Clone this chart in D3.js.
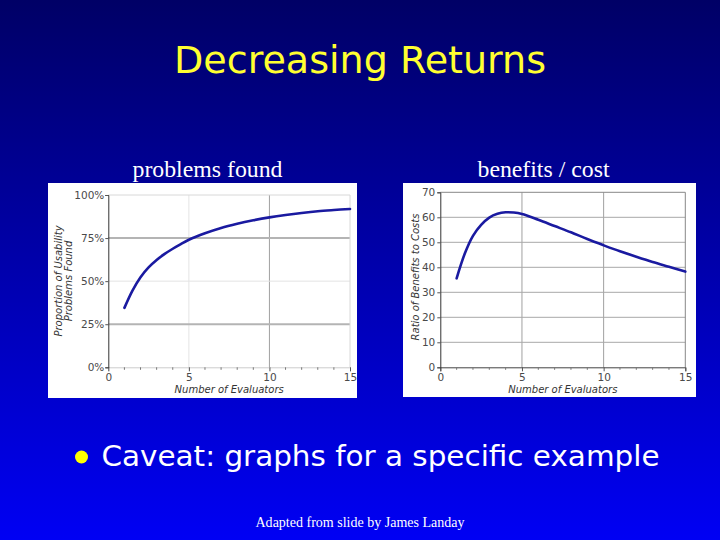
<!DOCTYPE html>
<html>
<head>
<meta charset="utf-8">
<script src="https://cdn.jsdelivr.net/npm/d3@7"></script>
<style>
  html, body { margin: 0; padding: 0; background: #000080; }
  svg { display: block; }
</style>
</head>
<body>
<svg id="slide" width="720" height="540"></svg>
<script>
// ---------- data ----------
const evaluators = [1, 1.5, 2, 2.5, 3, 3.5, 4, 4.5, 5, 6, 7, 8, 9, 10, 11, 12, 13, 14, 15];
const problemsFound = [34.5, 44.5, 52.3, 58.0, 62.3, 65.8, 68.8, 71.5, 74.0, 77.8, 80.9, 83.3, 85.3, 87.0, 88.4, 89.6, 90.6, 91.3, 91.9];
const benefitCost = [35.6, 45.5, 52.6, 57.0, 59.9, 61.4, 62.0, 61.9, 61.3, 59.0, 56.5, 54.0, 51.3, 48.8, 46.4, 44.2, 42.1, 40.2, 38.3];
const xTicks = [0, 5, 10, 15];
const xMinorTicks = [1, 2, 3, 4, 6, 7, 8, 9, 11, 12, 13, 14];
const yTicksPct = [0, 25, 50, 75, 100];
const yTicksRatio = [0, 10, 20, 30, 40, 50, 60, 70];

const slideTitle = "Decreasing Returns";
const leftCaption = "problems found";
const rightCaption = "benefits / cost";
const bulletText = "Caveat: graphs for a specific example";
const footerText = "Adapted from slide by James Landay";
const xAxisTitle = "Number of Evaluators";
const leftYTitle = ["Proportion of Usability", "Problems Found"];
const rightYTitle = "Ratio of Benefits to Costs";

// ---------- slide ----------
const svg = d3.select("#slide");
const defs = svg.append("defs");
const grad = defs.append("linearGradient").attr("id", "bg").attr("x1", 0).attr("y1", 0).attr("x2", 0).attr("y2", 1);
grad.append("stop").attr("offset", 0).attr("stop-color", "#000066");
grad.append("stop").attr("offset", 1).attr("stop-color", "#0000f4");
svg.append("rect").attr("width", 720).attr("height", 540).attr("fill", "url(#bg)");

svg.append("text").text(slideTitle)
  .attr("x", 360).attr("y", 73).attr("text-anchor", "middle")
  .attr("font-family", "'DejaVu Sans', Verdana, sans-serif").attr("font-size", 37)
  .attr("textLength", 372).attr("lengthAdjust", "spacingAndGlyphs")
  .attr("fill", "#ffff30");

svg.append("text").text(leftCaption)
  .attr("x", 207.5).attr("y", 177).attr("text-anchor", "middle")
  .attr("font-family", "'Liberation Serif', 'Times New Roman', serif").attr("font-size", 24)
  .attr("textLength", 150).attr("lengthAdjust", "spacingAndGlyphs")
  .attr("fill", "#ffffff");
svg.append("text").text(rightCaption)
  .attr("x", 543.5).attr("y", 177).attr("text-anchor", "middle")
  .attr("font-family", "'Liberation Serif', 'Times New Roman', serif").attr("font-size", 24)
  .attr("textLength", 132).attr("lengthAdjust", "spacingAndGlyphs")
  .attr("fill", "#ffffff");

svg.append("circle").attr("cx", 81.5).attr("cy", 457).attr("r", 6.5).attr("fill", "#ffff00");
svg.append("text").text(bulletText)
  .attr("x", 101.5).attr("y", 466)
  .attr("font-family", "'DejaVu Sans', sans-serif").attr("font-size", 29)
  .attr("textLength", 558).attr("lengthAdjust", "spacingAndGlyphs")
  .attr("fill", "#ffffff");

svg.append("text").text(footerText)
  .attr("x", 360).attr("y", 527).attr("text-anchor", "middle")
  .attr("font-family", "'Liberation Serif', 'Times New Roman', serif").attr("font-size", 14)
  .attr("textLength", 209).attr("lengthAdjust", "spacingAndGlyphs")
  .attr("fill", "#ffffff");

// ---------- chart builder ----------
function drawChart(cfg) {
  const g = svg.append("g");
  g.append("rect").attr("x", cfg.box[0]).attr("y", cfg.box[1])
    .attr("width", cfg.box[2]).attr("height", cfg.box[3]).attr("fill", "#ffffff");

  const x = d3.scaleLinear().domain([0, 15]).range([cfg.plot.left, cfg.plot.right]);
  const y = d3.scaleLinear().domain(cfg.yDomain).range([cfg.plot.bottom, cfg.plot.top]);

  // vertical grid
  g.append("g").selectAll("line").data(xTicks.filter(d => d > 0 && d < 15)).join("line")
    .attr("x1", d => x(d)).attr("x2", d => x(d))
    .attr("y1", y(cfg.yDomain[0])).attr("y2", y(cfg.yDomain[1]))
    .attr("stroke", d => cfg.vGridColor(d)).attr("stroke-width", 1);
  // horizontal grid
  g.append("g").selectAll("line").data(cfg.yTicks.filter(d => d > cfg.yDomain[0] && d < cfg.yDomain[1])).join("line")
    .attr("x1", x(0)).attr("x2", x(15))
    .attr("y1", d => y(d)).attr("y2", d => y(d))
    .attr("stroke", d => cfg.hGridColor(d)).attr("stroke-width", d => cfg.hGridWidth(d));

  // frame top & right
  g.append("line").attr("x1", x(0)).attr("x2", x(15)).attr("y1", y(cfg.yDomain[1])).attr("y2", y(cfg.yDomain[1]))
    .attr("stroke", cfg.frameColor);
  g.append("line").attr("x1", x(15)).attr("x2", x(15)).attr("y1", y(cfg.yDomain[0])).attr("y2", y(cfg.yDomain[1]))
    .attr("stroke", cfg.frameColor);

  // x axis
  const xAxis = g.append("g").attr("transform", `translate(0,${y(cfg.yDomain[0])})`)
    .call(d3.axisBottom(x).tickValues(xTicks).tickSize(4).tickPadding(2).tickFormat(d3.format("d")));
  xAxis.select(".domain").attr("stroke", cfg.bottomAxisColor);
  xAxis.selectAll(".tick line").attr("stroke", "#555");
  xAxis.selectAll("text").attr("font-family", "'DejaVu Sans', Verdana, sans-serif")
    .attr("font-size", 10.5).attr("fill", "#4a4a4a");
  xAxis.append("g").selectAll("line").data(xMinorTicks).join("line")
    .attr("x1", d => x(d)).attr("x2", d => x(d)).attr("y1", 0).attr("y2", 2.5)
    .attr("stroke", "#777");

  // y axis
  const yAxis = g.append("g").attr("transform", `translate(${x(0)},0)`)
    .call(d3.axisLeft(y).tickValues(cfg.yTicks).tickSize(3).tickPadding(cfg.yPad).tickFormat(cfg.yFormat));
  yAxis.select(".domain").attr("stroke", "#333");
  yAxis.selectAll(".tick line").attr("stroke", "#555");
  yAxis.selectAll("text").attr("font-family", "'DejaVu Sans', Verdana, sans-serif")
    .attr("font-size", 10.5).attr("fill", "#4a4a4a");

  // titles
  g.append("text").text(xAxisTitle)
    .attr("x", (cfg.plot.left + cfg.plot.right) / 2).attr("y", 393).attr("text-anchor", "middle")
    .attr("font-family", "'DejaVu Sans', Verdana, sans-serif").attr("font-style", "italic")
    .attr("font-size", 10).attr("fill", "#333");
  cfg.yTitle.forEach((t, i) => {
    g.append("text").text(t)
      .attr("transform", `translate(${cfg.yTitleX + i * 10.5},${cfg.yTitleY}) rotate(-90)`)
      .attr("text-anchor", "middle")
      .attr("font-family", "'DejaVu Sans', Verdana, sans-serif").attr("font-style", "italic")
      .attr("font-size", 10).attr("fill", "#333");
  });

  // curve
  const line = d3.line().x((d, i) => x(evaluators[i])).y(d => y(d)).curve(d3.curveCatmullRom.alpha(0.5));
  g.append("path").datum(cfg.values).attr("d", line)
    .attr("fill", "none").attr("stroke", "#1a1aa0").attr("stroke-width", 2.6)
    .attr("stroke-linecap", "round").attr("stroke-linejoin", "round");
}

drawChart({
  box: [48, 183, 309, 215],
  plot: { left: 108.3, right: 350, top: 195, bottom: 367.3 },
  yDomain: [0, 100],
  yTicks: yTicksPct,
  yFormat: d => d + "%",
  yPad: 1,
  values: problemsFound,
  vGridColor: d => d === 10 ? "#a0a0a0" : "#e4e4e4",
  hGridColor: d => d === 50 ? "#e4e4e4" : "#b4b4b4",
  hGridWidth: d => d === 50 ? 1 : 2,
  frameColor: "#d8d8d8",
  bottomAxisColor: "#cccccc",
  yTitle: leftYTitle,
  yTitleX: 61.5,
  yTitleY: 281
});

drawChart({
  box: [403, 183, 293, 214],
  plot: { left: 440.3, right: 685.3, top: 192.3, bottom: 367.3 },
  yDomain: [0, 70],
  yTicks: yTicksRatio,
  yFormat: d3.format("d"),
  yPad: 2,
  values: benefitCost,
  vGridColor: d => "#a0a0a0",
  hGridColor: d => "#a8a8a8",
  hGridWidth: d => 1,
  frameColor: "#888888",
  bottomAxisColor: "#444444",
  yTitle: [rightYTitle],
  yTitleX: 418.5,
  yTitleY: 277
});
</script>
</body>
</html>
